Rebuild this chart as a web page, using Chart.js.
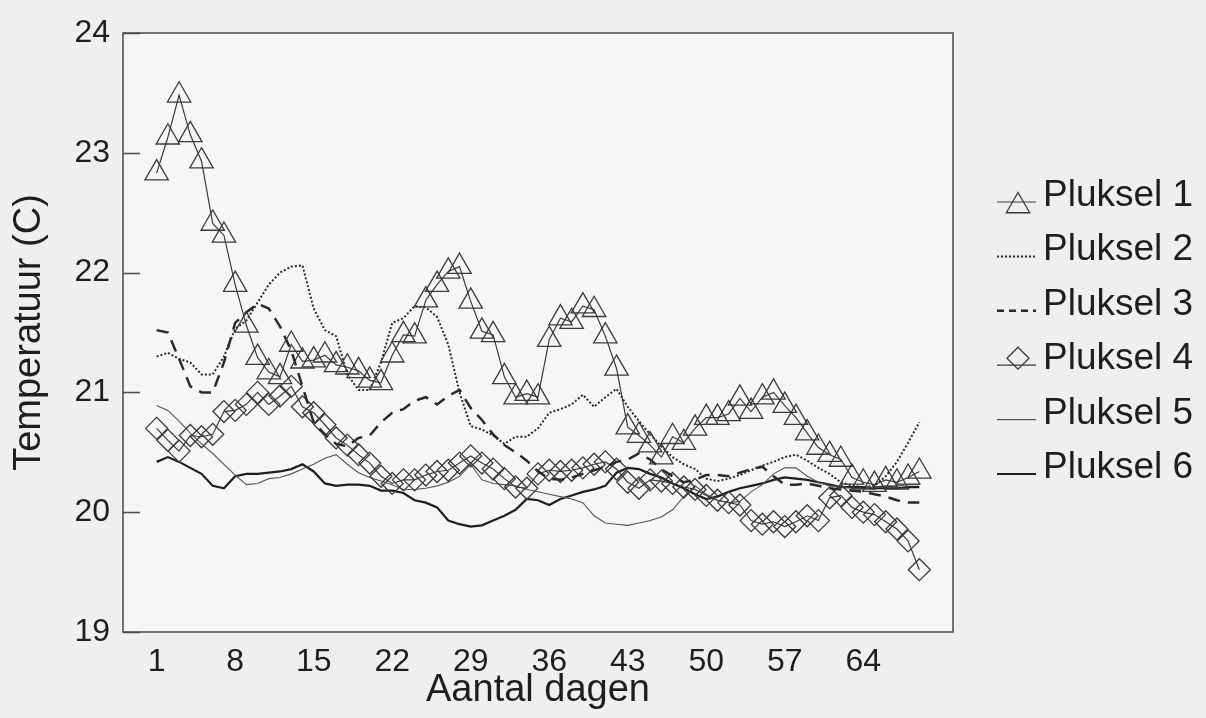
<!DOCTYPE html>
<html>
<head>
<meta charset="utf-8">
<title>Temperatuur per pluksel</title>
<script src="https://cdn.jsdelivr.net/npm/chart.js@4.4.1/dist/chart.umd.min.js"></script>
<style>
    html, body { margin: 0; padding: 0; background: #efefef; }
    canvas { display: block; }
</style>
</head>
<body>
<canvas id="tempChart" width="1206" height="718"></canvas>
<script>
// days of measurement and the labelled ticks
const days = Array.from({ length: 69 }, (_, i) => i + 1);
const dayTicks = [1, 8, 15, 22, 29, 36, 43, 50, 57, 64];
const tempTicks = [19, 20, 21, 22, 23, 24];

const pluksel1 = [
    22.83, 23.13, 23.48, 23.15, 22.93, 22.41, 22.31, 21.90, 21.56, 21.29,
    21.17, 21.13, 21.40, 21.26, 21.27, 21.31, 21.23, 21.21, 21.18, 21.10,
    21.08, 21.31, 21.48, 21.47, 21.77, 21.90, 22.01, 22.05, 21.76, 21.51,
    21.48, 21.13, 20.96, 20.99, 20.96, 21.44, 21.62, 21.59, 21.72, 21.69,
    21.47, 21.20, 20.71, 20.64, 20.56, 20.46, 20.63, 20.58, 20.70, 20.79,
    20.79, 20.82, 20.95, 20.84, 20.96, 21.00, 20.89, 20.79, 20.66, 20.54,
    20.48, 20.44, 20.29, 20.25, 20.23, 20.27, 20.25, 20.29, 20.34
];
const pluksel2 = [
    21.30, 21.33, 21.28, 21.25, 21.15, 21.15, 21.30, 21.53, 21.60, 21.75,
    21.90, 22.00, 22.05, 22.06, 21.70, 21.52, 21.47, 21.15, 21.02, 21.02,
    21.25, 21.58, 21.62, 21.72, 21.71, 21.63, 21.40, 21.00, 20.72, 20.69,
    20.64, 20.57, 20.63, 20.63, 20.70, 20.83, 20.86, 20.90, 20.98, 20.88,
    20.96, 21.03, 20.88, 20.76, 20.65, 20.55, 20.46, 20.40, 20.36, 20.28,
    20.26, 20.28, 20.31, 20.35, 20.39, 20.42, 20.46, 20.48, 20.43, 20.37,
    20.32, 20.25, 20.22, 20.21, 20.22, 20.30, 20.42, 20.58, 20.75
];
const pluksel3 = [
    21.52, 21.50, 21.28, 21.05, 21.00, 21.00, 21.25, 21.58, 21.67, 21.74,
    21.70, 21.55, 21.35, 21.05, 20.75, 20.65, 20.57, 20.55, 20.62, 20.64,
    20.75, 20.83, 20.86, 20.93, 20.96, 20.90, 20.97, 21.02, 20.87, 20.77,
    20.65, 20.56, 20.50, 20.43, 20.34, 20.28, 20.27, 20.29, 20.32, 20.35,
    20.38, 20.42, 20.44, 20.49, 20.44, 20.36, 20.30, 20.25, 20.27, 20.31,
    20.31, 20.30, 20.33, 20.36, 20.38, 20.30, 20.23, 20.23, 20.24, 20.22,
    20.20, 20.19, 20.18, 20.17, 20.15, 20.13, 20.10, 20.08, 20.08
];
const pluksel4 = [
    20.70, 20.60, 20.51, 20.64, 20.63, 20.65, 20.84, 20.85, 20.90, 21.00,
    20.90, 20.97, 21.05, 20.88, 20.83, 20.73, 20.62, 20.56, 20.48, 20.41,
    20.30, 20.24, 20.27, 20.27, 20.31, 20.34, 20.35, 20.41, 20.47, 20.41,
    20.36, 20.28, 20.21, 20.20, 20.32, 20.35, 20.34, 20.35, 20.37, 20.40,
    20.42, 20.36, 20.25, 20.20, 20.27, 20.26, 20.24, 20.21, 20.19, 20.14,
    20.10, 20.08, 20.06, 19.93, 19.90, 19.92, 19.88, 19.92, 19.97, 19.93,
    20.12, 20.14, 20.04, 20.00, 19.98, 19.92, 19.86, 19.76, 19.52
];
const pluksel5 = [
    20.89, 20.85, 20.76, 20.66, 20.57, 20.49, 20.40, 20.31, 20.23, 20.24,
    20.28, 20.29, 20.32, 20.36, 20.40, 20.45, 20.48, 20.40, 20.33, 20.29,
    20.26, 20.23, 20.19, 20.19, 20.20, 20.22, 20.25, 20.30, 20.40, 20.27,
    20.24, 20.23, 20.22, 20.19, 20.17, 20.15, 20.13, 20.11, 20.08, 19.97,
    19.91, 19.90, 19.89, 19.91, 19.93, 19.96, 20.02, 20.13, 20.22, 20.15,
    20.10, 20.08, 20.09, 20.17, 20.23, 20.32, 20.37, 20.37, 20.30, 20.25,
    20.22, 20.21, 20.20, 20.20, 20.21, 20.22, 20.22, 20.23, 20.23
];
const pluksel6 = [
    20.42, 20.46, 20.42, 20.37, 20.32, 20.22, 20.20, 20.30, 20.32, 20.32,
    20.33, 20.34, 20.36, 20.40, 20.34, 20.24, 20.22, 20.23, 20.23, 20.22,
    20.18, 20.18, 20.16, 20.10, 20.08, 20.04, 19.93, 19.90, 19.88, 19.89,
    19.93, 19.97, 20.02, 20.11, 20.10, 20.06, 20.11, 20.14, 20.17, 20.19,
    20.22, 20.33, 20.37, 20.36, 20.32, 20.29, 20.24, 20.20, 20.15, 20.11,
    20.13, 20.17, 20.20, 20.22, 20.24, 20.27, 20.29, 20.28, 20.27, 20.25,
    20.23, 20.21, 20.21, 20.21, 20.20, 20.20, 20.20, 20.21, 20.21
];

const FONT = '"Liberation Sans", Arial, sans-serif';
const INK = '#1e1e1e';

function toPoints(values) {
    return days.map((d, i) => ({ x: d, y: values[i] }));
}

/* background, box around the plot and inward tick marks */
const framePlugin = {
    id: 'frame',
    beforeDraw(chart) {
        const ctx = chart.ctx;
        const a = chart.chartArea;
        ctx.save();
        ctx.fillStyle = '#efefef';
        ctx.fillRect(0, 0, chart.width, chart.height);
        ctx.fillStyle = '#f6f6f6';
        ctx.fillRect(a.left, a.top, a.right - a.left, a.bottom - a.top);
        ctx.restore();
    },
    beforeDatasetsDraw(chart) {
        const ctx = chart.ctx;
        const a = chart.chartArea;
        const y = chart.scales.y;
        ctx.save();
        ctx.strokeStyle = '#4a4a4a';
        ctx.lineWidth = 1.5;
        ctx.strokeRect(a.left, a.top, a.right - a.left, a.bottom - a.top);
        ctx.beginPath();
        tempTicks.forEach(v => {
            const py = Math.round(y.getPixelForValue(v)) + 0.5;
            ctx.moveTo(a.left, py);
            ctx.lineTo(a.left + 17, py);
        });
        ctx.stroke();
        ctx.restore();
    }
};

/* legend on the right: line sample, marker and label per series */
const sideLegend = {
    id: 'sideLegend',
    afterDraw(chart) {
        const ctx = chart.ctx;
        chart.data.datasets.forEach((ds, i) => {
            const base = 206 + i * 54.4;
            const ly = base - 4;
            ctx.save();
            ctx.strokeStyle = ds.borderColor;
            ctx.lineWidth = ds.borderWidth;
            ctx.setLineDash(ds.legendDash || []);
            ctx.beginPath();
            ctx.moveTo(997, ly);
            ctx.lineTo(1036, ly);
            ctx.stroke();
            ctx.setLineDash([]);
            if (ds.pointRadius > 0) {
                ctx.fillStyle = 'rgba(0,0,0,0)';
                ctx.strokeStyle = ds.pointBorderColor;
                ctx.lineWidth = ds.pointBorderWidth;
                const cy = ds.pointStyle === 'triangle' ? base : base - 11;
                Chart.helpers.drawPoint(ctx, {
                    pointStyle: ds.pointStyle,
                    radius: ds.pointRadius,
                    rotation: 0,
                    borderWidth: ds.pointBorderWidth
                }, 1018, cy);
            }
            ctx.fillStyle = INK;
            ctx.font = '37px ' + FONT;
            ctx.textAlign = 'left';
            ctx.textBaseline = 'alphabetic';
            ctx.fillText(ds.label, 1043, base);
            ctx.restore();
        });
    }
};

new Chart(document.getElementById('tempChart'), {
    type: 'line',
    data: {
        datasets: [{
            label: 'Pluksel 1',
            data: toPoints(pluksel1),
            borderColor: '#3a3a3a',
            borderWidth: 1.2,
            pointStyle: 'triangle',
            pointRadius: 13.5,
            pointBorderWidth: 1.3,
            pointBorderColor: '#3a3a3a',
            pointBackgroundColor: 'rgba(0,0,0,0)'
        }, {
            label: 'Pluksel 2',
            data: toPoints(pluksel2),
            borderColor: '#2a2a2a',
            borderWidth: 2,
            borderDash: [2, 2],
            legendDash: [2, 2],
            pointRadius: 0
        }, {
            label: 'Pluksel 3',
            data: toPoints(pluksel3),
            borderColor: '#2a2a2a',
            borderWidth: 2.5,
            borderDash: [12, 8],
            legendDash: [7, 5],
            pointRadius: 0
        }, {
            label: 'Pluksel 4',
            data: toPoints(pluksel4),
            borderColor: '#3a3a3a',
            borderWidth: 1.2,
            pointStyle: 'rectRot',
            pointRadius: 11,
            pointBorderWidth: 1.3,
            pointBorderColor: '#3a3a3a',
            pointBackgroundColor: 'rgba(0,0,0,0)'
        }, {
            label: 'Pluksel 5',
            data: toPoints(pluksel5),
            borderColor: '#555555',
            borderWidth: 1.1,
            pointRadius: 0
        }, {
            label: 'Pluksel 6',
            data: toPoints(pluksel6),
            borderColor: '#1e1e1e',
            borderWidth: 2.2,
            pointRadius: 0
        }]
    },
    options: {
        responsive: false,
        animation: false,
        devicePixelRatio: 1,
        events: [],
        elements: {
            line: { tension: 0 }
        },
        layout: {
            padding: { top: 33, right: 253, bottom: 0, left: 0 }
        },
        plugins: {
            legend: { display: false },
            tooltip: { enabled: false }
        },
        scales: {
            x: {
                type: 'linear',
                min: -2,
                max: 72,
                grid: { display: false },
                border: { display: false },
                afterBuildTicks: scale => {
                    scale.ticks = dayTicks.map(v => ({ value: v }));
                },
                afterFit: scale => { scale.height = 86; },
                ticks: {
                    autoSkip: false,
                    maxRotation: 0,
                    padding: 3,
                    color: INK,
                    font: { family: FONT, size: 32 }
                },
                title: {
                    display: true,
                    text: 'Aantal dagen',
                    color: INK,
                    padding: { top: 0, bottom: 5 },
                    font: { family: FONT, size: 38, lineHeight: 1.2 }
                }
            },
            y: {
                min: 19,
                max: 24,
                grid: { display: false },
                border: { display: false },
                afterBuildTicks: scale => {
                    scale.ticks = tempTicks.map(v => ({ value: v }));
                },
                afterFit: scale => { scale.width = 123; },
                ticks: {
                    padding: 5,
                    color: INK,
                    font: { family: FONT, size: 32 }
                },
                title: {
                    display: true,
                    text: 'Temperatuur (C)',
                    color: INK,
                    padding: { top: 7, bottom: 0 },
                    font: { family: FONT, size: 38, lineHeight: 1.2 }
                }
            }
        }
    },
    plugins: [framePlugin, sideLegend]
});
</script>
</body>
</html>
